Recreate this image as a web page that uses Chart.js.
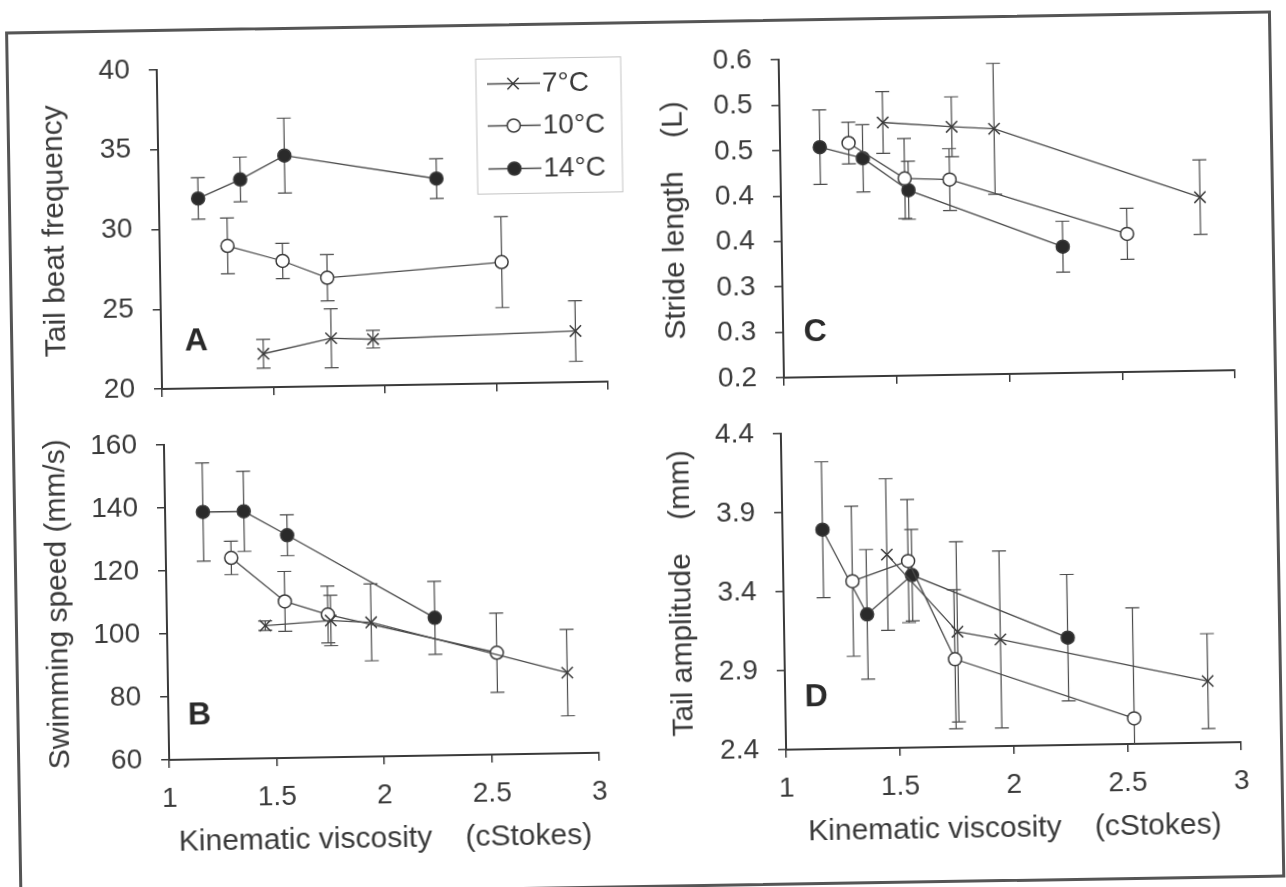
<!DOCTYPE html>
<html lang="en">
<head>
<meta charset="UTF-8">
<title>Kinematic viscosity effects</title>
<script src="https://cdn.jsdelivr.net/npm/chart.js@4.4.1/dist/chart.umd.min.js"></script>
<style>
  * { margin: 0; padding: 0; box-sizing: border-box; }
  body {
    width: 1286px;
    height: 887px;
    background: #fff;
    overflow: hidden;
    font-family: 'Liberation Sans', Arial, sans-serif;
  }
  /* the scanned figure sits slightly tilted */
  .page {
    position: absolute;
    left: 0; top: 0;
    width: 1286px; height: 887px;
    transform: rotate(-0.95deg);
    transform-origin: 643px 443.5px;
  }
  .frame {
    position: absolute;
    left: 12px; top: 21px;
    width: 1266px; height: 867px;
    border: 3px solid #555;
  }
  .panel { position: absolute; }
</style>
</head>
<body>
<div class="page">
  <div class="frame"></div>
  <div class="panel" style="left:33px; top:26px; width:606px; height:391px;"><canvas id="chartA"></canvas></div>
  <div class="panel" style="left:655px; top:26px; width:611px; height:390px;"><canvas id="chartC"></canvas></div>
  <div class="panel" style="left:34px; top:401px; width:590px; height:456px;"><canvas id="chartB"></canvas></div>
  <div class="panel" style="left:651px; top:400px; width:615px; height:457px;"><canvas id="chartD"></canvas></div>
</div>

<script>
// viscosity (cStokes) at each temperature
const VISC_7 = [1.457, 1.762, 1.95, 2.858];
const VISC_10 = [1.304, 1.55, 1.749, 2.532];
const VISC_14 = [1.176, 1.366, 1.566, 2.246];

const X_TICKS = [1, 1.5, 2, 2.5, 3];
const X_TICK_LABELS = ['1', '1.5', '2', '2.5', '3'];

// A - tail beat frequency
const A_Y_7 = [22.1, 23.0, 22.9, 23.2];
const A_E_7 = [0.9, 1.85, 0.55, 1.9];
const A_Y_10 = [28.9, 27.9, 26.8, 27.6];
const A_E_10 = [1.75, 1.1, 1.45, 2.85];
const A_Y_14 = [31.9, 33.05, 34.5, 32.9];
const A_E_14 = [1.3, 1.4, 2.35, 1.25];
const A_TICKS = [20, 25, 30, 35, 40];
const A_TICK_LABELS = ['20', '25', '30', '35', '40'];

// B - swimming speed
const B_Y_7 = [102.1, 103.4, 102.6, 85.6];
const B_E_7 = [1.5, 8, 12.2, 13.7];
const B_Y_10 = [123.8, 109.7, 105.3, 92.3];
const B_E_10 = [5.3, 9.5, 9, 12.6];
const B_Y_14 = [138.5, 138.5, 130.7, 103.7];
const B_E_14 = [15.6, 12.7, 6.5, 11.6];
const B_TICKS = [60, 80, 100, 120, 140, 160];
const B_TICK_LABELS = ['60', '80', '100', '120', '140', '160'];

// C - stride length
const C_Y_7 = [0.479, 0.473, 0.47, 0.391];
const C_E_7 = [0.034, 0.033, 0.072, 0.041];
const C_Y_10 = [0.457, 0.417, 0.415, 0.352];
const C_E_10 = [0.023, 0.044, 0.034, 0.028];
const C_Y_14 = [0.453, 0.44, 0.404, 0.339];
const C_E_14 = [0.041, 0.037, 0.032, 0.028];
const C_TICKS = [0.2, 0.25, 0.3, 0.35, 0.4, 0.45, 0.5, 0.55];
const C_TICK_LABELS = ['0.2', '0.3', '0.3', '0.4', '0.4', '0.5', '0.5', '0.6'];

// D - tail amplitude
const D_Y_7 = [3.624, 3.128, 3.075, 2.79];
const D_E_7 = [0.48, 0.57, 0.56, 0.3];
const D_Y_10 = [3.459, 3.581, 2.955, 2.562];
const D_E_10 = [0.475, 0.39, 0.44, 0.7];
const D_Y_14 = [3.788, 3.248, 3.491, 3.079];
const D_E_14 = [0.43, 0.41, 0.29, 0.4];
const D_TICKS = [2.4, 2.9, 3.4, 3.9, 4.4];
const D_TICK_LABELS = ['2.4', '2.9', '3.4', '3.9', '4.4'];

const LEGEND_LABELS = ['7°C', '10°C', '14°C'];

const FONT = "'Liberation Sans', Arial, sans-serif";
const INK = '#3a3a3a';
const LINE = '#4a4a4a';
const Y_AXIS_W = 130;
const PAD_TOP = 36;   // room for the top tick label (half line + tick padding)
const CAP = 7;

const STYLE_7 = { pointStyle: 'crossRot', radius: 8, fill: INK };
const STYLE_10 = { pointStyle: 'circle', radius: 6.5, fill: '#fff' };
const STYLE_14 = { pointStyle: 'circle', radius: 6.5, fill: '#2a2a2a' };

function series(xs, ys, errs, style) {
    return {
        data: xs.map((x, i) => ({ x: x, y: ys[i] })),
        errors: errs,
        borderColor: LINE,
        borderWidth: 1.3,
        tension: 0,
        fill: false,
        pointStyle: style.pointStyle,
        pointRadius: style.radius,
        pointBorderWidth: 1.5,
        pointBorderColor: INK,
        pointBackgroundColor: style.fill
    };
}

const errorBars = {
    id: 'errorBars',
    beforeDatasetsDraw(chart) {
        const ctx = chart.ctx;
        const xs = chart.scales.x, ys = chart.scales.y;
        ctx.save();
        ctx.strokeStyle = LINE;
        ctx.lineWidth = 1.2;
        chart.data.datasets.forEach(ds => {
            ds.data.forEach((p, i) => {
                const e = ds.errors[i];
                const px = xs.getPixelForValue(p.x);
                const hi = Math.min(p.y + e, ys.max);
                const lo = Math.max(p.y - e, ys.min);
                const pHi = ys.getPixelForValue(hi);
                const pLo = ys.getPixelForValue(lo);
                ctx.beginPath();
                ctx.moveTo(px, pLo);
                ctx.lineTo(px, pHi);
                if (p.y + e <= ys.max) {
                    ctx.moveTo(px - CAP, pHi);
                    ctx.lineTo(px + CAP, pHi);
                }
                if (p.y - e >= ys.min) {
                    ctx.moveTo(px - CAP, pLo);
                    ctx.lineTo(px + CAP, pLo);
                }
                ctx.stroke();
            });
        });
        ctx.restore();
    }
};

function panelLetter(text, dx, dy) {
    return {
        id: 'panelLetter',
        afterDraw(chart) {
            const ctx = chart.ctx, area = chart.chartArea;
            ctx.save();
            ctx.fillStyle = '#2a2a2a';
            ctx.font = 'bold 32px ' + FONT;
            ctx.textAlign = 'center';
            ctx.textBaseline = 'middle';
            ctx.fillText(text, area.left + dx, area.bottom + dy);
            ctx.restore();
        }
    };
}

// legend box drawn inside panel A
const legendBox = {
    id: 'legendBox',
    afterDraw(chart) {
        const ctx = chart.ctx, area = chart.chartArea;
        const left = area.right - 127, top = area.top - 5.5;
        const rows = [25, 67, 110];
        ctx.save();
        ctx.strokeStyle = '#c4c4c4';
        ctx.lineWidth = 1;
        ctx.strokeRect(left, top, 145, 135);
        rows.forEach((dy, i) => {
            const y = top + dy;
            const mx = left + 37;
            ctx.strokeStyle = LINE;
            ctx.lineWidth = 1.3;
            ctx.beginPath();
            ctx.moveTo(left + 11, y);
            ctx.lineTo(left + 64, y);
            ctx.stroke();
            ctx.strokeStyle = INK;
            ctx.lineWidth = 1.5;
            if (i === 0) {
                const r = 8 * Math.SQRT1_2;
                ctx.beginPath();
                ctx.moveTo(mx - r, y - r); ctx.lineTo(mx + r, y + r);
                ctx.moveTo(mx - r, y + r); ctx.lineTo(mx + r, y - r);
                ctx.stroke();
            } else {
                ctx.beginPath();
                ctx.arc(mx, y, 6.5, 0, Math.PI * 2);
                ctx.fillStyle = i === 1 ? '#fff' : '#2a2a2a';
                ctx.fill();
                ctx.stroke();
            }
            ctx.fillStyle = INK;
            ctx.font = '28px ' + FONT;
            ctx.textAlign = 'left';
            ctx.textBaseline = 'middle';
            ctx.fillText(LEGEND_LABELS[i], left + 66, y + 1);
        });
        ctx.restore();
    }
};

function yScale(min, max, ticks, labels, titleText, titlePad) {
    return {
        type: 'linear',
        min: min,
        max: max,
        afterBuildTicks: s => { s.ticks = ticks.map(v => ({ value: v })); },
        afterFit: s => { s.width = Y_AXIS_W; },
        ticks: {
            color: INK,
            font: { size: 28, family: FONT },
            padding: 19,
            callback: (v, i) => labels[i]
        },
        grid: { drawOnChartArea: false, tickLength: 8, lineWidth: 1.5, color: INK },
        border: { display: true, color: INK, width: 2 },
        title: {
            display: true,
            text: titleText,
            color: INK,
            font: { size: 30, family: FONT },
            padding: { top: titlePad, bottom: 0 }
        }
    };
}

function xScale(withLabels) {
    return {
        type: 'linear',
        min: 1,
        max: 3,
        afterBuildTicks: s => { s.ticks = X_TICKS.map(v => ({ value: v })); },
        afterFit: s => { s.height = withLabels ? 105 : 36; },
        ticks: {
            display: withLabels,
            color: INK,
            font: { size: 28, family: FONT },
            padding: 14,
            maxRotation: 0,
            callback: (v, i) => X_TICK_LABELS[i]
        },
        grid: { drawOnChartArea: false, tickLength: 8, lineWidth: 1.5, color: INK },
        border: { display: true, color: INK, width: 2 },
        title: {
            display: withLabels,
            text: 'Kinematic viscosity    (cStokes)',
            color: INK,
            font: { size: 30, family: FONT },
            padding: { top: 0, bottom: 4 }
        }
    };
}

function makeChart(id, datasets, x, y, extraPlugins) {
    return new Chart(document.getElementById(id), {
        type: 'line',
        data: { datasets: datasets },
        options: {
            responsive: true,
            maintainAspectRatio: false,
            animation: false,
            layout: { padding: { top: PAD_TOP, right: 30, left: 0, bottom: 0 } },
            plugins: { legend: { display: false }, tooltip: { enabled: false } },
            scales: { x: x, y: y }
        },
        plugins: [errorBars].concat(extraPlugins)
    });
}

makeChart('chartA', [
    series(VISC_7, A_Y_7, A_E_7, STYLE_7),
    series(VISC_10, A_Y_10, A_E_10, STYLE_10),
    series(VISC_14, A_Y_14, A_E_14, STYLE_14)
], xScale(false), yScale(20, 40, A_TICKS, A_TICK_LABELS, 'Tail beat frequency', 7.6),
   [panelLetter('A', 35, -47), legendBox]);

makeChart('chartC', [
    series(VISC_7, C_Y_7, C_E_7, STYLE_7),
    series(VISC_10, C_Y_10, C_E_10, STYLE_10),
    series(VISC_14, C_Y_14, C_E_14, STYLE_14)
], xScale(false), yScale(0.2, 0.55, C_TICKS, C_TICK_LABELS, 'Stride length    (L)', 5.7),
   [panelLetter('C', 32, -45)]);

makeChart('chartB', [
    series(VISC_7, B_Y_7, B_E_7, STYLE_7),
    series(VISC_10, B_Y_10, B_E_10, STYLE_10),
    series(VISC_14, B_Y_14, B_E_14, STYLE_14)
], xScale(true), yScale(60, 160, B_TICKS, B_TICK_LABELS, 'Swimming speed (mm/s)', 3.4),
   [panelLetter('B', 31, -44)]);

makeChart('chartD', [
    series(VISC_7, D_Y_7, D_E_7, STYLE_7),
    series(VISC_10, D_Y_10, D_E_10, STYLE_10),
    series(VISC_14, D_Y_14, D_E_14, STYLE_14)
], xScale(true), yScale(2.4, 4.4, D_TICKS, D_TICK_LABELS, 'Tail amplitude    (mm)', 10.6),
   [panelLetter('D', 31, -52)]);
</script>
</body>
</html>
